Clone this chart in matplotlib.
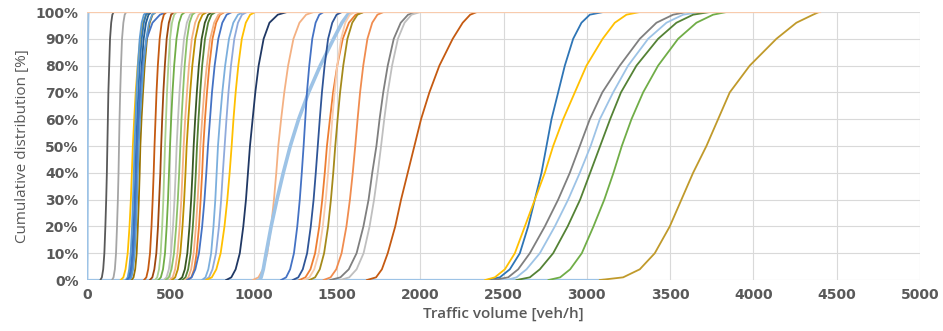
import matplotlib.pyplot as plt

# cumulative levels [%] at which the traffic volume of each curve was read
levels = [0, 1, 4, 10, 20, 30, 40, 50, 60, 70, 80, 90, 96, 99, 100]

# traffic volume [veh/h] at each level, one list per detector, left to right
curves = [
    [2, 3, 3, 4, 4, 5, 5, 5, 6, 6, 7, 7, 8, 9, 10],
    [80, 89, 97, 104, 110, 115, 119, 122, 125, 128, 133, 138, 145, 152, 160],
    [150, 159, 167, 174, 180, 185, 189, 192, 195, 199, 204, 210, 218, 226, 235],
    [202, 218, 231, 244, 255, 263, 269, 275, 283, 292, 304, 319, 336, 355, 377],
    [232, 244, 253, 262, 270, 276, 281, 285, 291, 297, 305, 316, 328, 341, 357],
    [241, 253, 263, 272, 280, 286, 291, 295, 301, 308, 316, 328, 341, 354, 371],
    [252, 264, 273, 282, 290, 296, 301, 305, 312, 319, 328, 340, 354, 369, 387],
    [268, 279, 289, 298, 305, 311, 316, 320, 327, 336, 346, 360, 376, 393, 413],
    [243, 256, 266, 275, 284, 290, 295, 300, 308, 318, 333, 358, 393, 438, 478],
    [254, 266, 276, 286, 294, 300, 305, 310, 318, 328, 339, 355, 372, 391, 414],
    [342, 356, 367, 378, 387, 394, 400, 405, 411, 417, 425, 436, 448, 461, 477],
    [377, 392, 404, 416, 426, 433, 440, 445, 451, 458, 467, 478, 491, 505, 522],
    [408, 421, 432, 442, 451, 458, 463, 468, 474, 480, 488, 498, 510, 523, 538],
    [428, 443, 456, 468, 478, 486, 492, 498, 505, 513, 523, 537, 552, 568, 588],
    [460, 477, 491, 504, 516, 525, 532, 538, 546, 555, 567, 582, 599, 618, 640],
    [472, 491, 507, 522, 535, 545, 553, 560, 567, 576, 586, 600, 615, 632, 652],
    [495, 514, 529, 543, 556, 566, 573, 580, 589, 600, 612, 629, 649, 670, 695],
    [510, 529, 545, 560, 573, 583, 591, 598, 608, 619, 632, 650, 671, 693, 720],
    [552, 571, 587, 602, 615, 625, 633, 640, 649, 659, 671, 688, 707, 727, 752],
    [572, 591, 607, 622, 635, 645, 653, 660, 669, 679, 691, 708, 727, 747, 772],
    [606, 626, 643, 658, 672, 682, 691, 698, 708, 720, 734, 753, 775, 798, 826],
    [588, 608, 625, 640, 654, 664, 673, 680, 691, 703, 719, 739, 763, 788, 818],
    [600, 628, 650, 672, 691, 705, 716, 726, 738, 750, 766, 788, 812, 838, 870],
    [690, 711, 728, 745, 759, 770, 778, 786, 798, 812, 829, 852, 878, 906, 940],
    [705, 732, 753, 774, 792, 805, 815, 826, 837, 849, 864, 884, 906, 930, 960],
    [715, 749, 776, 802, 825, 842, 856, 868, 879, 892, 908, 929, 953, 979, 1010],
    [835, 866, 892, 917, 938, 954, 966, 978, 994, 1010, 1030, 1060, 1095, 1145, 1200],
    [995, 1029, 1056, 1082, 1105, 1122, 1136, 1148, 1165, 1184, 1207, 1239, 1275, 1315, 1360],
    [1035, 1045, 1058, 1075, 1105, 1140, 1178, 1220, 1270, 1330, 1400, 1480, 1530, 1565, 1590],
    [1165, 1195, 1219, 1242, 1262, 1277, 1289, 1300, 1310, 1320, 1334, 1352, 1372, 1394, 1420],
    [1235, 1268, 1295, 1321, 1343, 1360, 1373, 1385, 1397, 1410, 1426, 1447, 1472, 1498, 1530],
    [1275, 1311, 1341, 1369, 1394, 1412, 1427, 1440, 1458, 1477, 1502, 1535, 1572, 1612, 1660],
    [1300, 1335, 1364, 1391, 1415, 1433, 1447, 1460, 1472, 1486, 1502, 1525, 1550, 1577, 1610],
    [1335, 1369, 1397, 1423, 1447, 1464, 1478, 1490, 1504, 1519, 1538, 1563, 1592, 1623, 1660],
    [1420, 1462, 1496, 1528, 1557, 1578, 1595, 1610, 1624, 1639, 1658, 1683, 1712, 1743, 1780],
    [1460, 1521, 1571, 1618, 1659, 1690, 1712, 1737, 1756, 1778, 1805, 1841, 1883, 1927, 1980],
    [1520, 1574, 1618, 1660, 1696, 1723, 1745, 1765, 1784, 1805, 1831, 1866, 1906, 1948, 2000],
    [1680, 1735, 1770, 1805, 1850, 1885, 1925, 1965, 2005, 2055, 2115, 2195, 2255, 2300, 2340],
    [2400, 2478, 2538, 2598, 2648, 2688, 2728, 2758, 2788, 2828, 2868, 2918, 2968, 3018, 3098],
    [2390, 2448, 2508, 2568, 2628, 2688, 2748, 2798, 2858, 2928, 2998, 3095, 3168, 3238, 3318],
    [2440, 2528, 2588, 2658, 2748, 2828, 2898, 2958, 3018, 3093, 3198, 3318, 3418, 3518, 3598],
    [2518, 2578, 2638, 2718, 2808, 2888, 2958, 3023, 3078, 3158, 3248, 3368, 3478, 3578, 3678],
    [2578, 2658, 2718, 2798, 2885, 2960, 3020, 3080, 3140, 3205, 3298, 3428, 3538, 3638, 3738],
    [2770, 2840, 2900, 2970, 3040, 3105, 3160, 3210, 3268, 3338, 3428, 3548, 3658, 3758, 3838],
    [3078, 3218, 3318, 3408, 3498, 3568, 3638, 3718, 3788, 3858, 3978, 4138, 4258, 4358, 4394],
]

colors = [
    "#9DC3E6", "#595959", "#A5A5A5", "#FFC000", "#5B9BD5", "#2E75B6",
    "#255E91", "#997300", "#4472C4", "#5B9BD5", "#C55A11", "#9E480E",
    "#A9D18E", "#70AD47", "#BFBFBF", "#8CC168", "#F4B183", "#BF9000",
    "#385723", "#548235", "#ED7D31", "#F4B183", "#4472C4", "#7CAFDD",
    "#8FAADC", "#FFC000", "#203864", "#F4B183", "#9DC3E6", "#4472C4",
    "#2F5597", "#ED7D31", "#F8CBAD", "#A58A1B", "#F08C4F", "#7F7F7F",
    "#BFBFBF", "#C55A11", "#2E75B6", "#FFC000", "#7F7F7F", "#9DC3E6",
    "#548235", "#70AD47", "#C09A2B",
]

# flat parts drawn along 0 % and 100 %
bottom_end = 3100
top_end = 4400

fig = plt.figure(figsize=(9.43, 3.31), dpi=100)
ax = fig.add_axes([0.0923, 0.154, 0.8833, 0.8097])

ax.plot([0, bottom_end], [0, 0], color="#9DC3E6", lw=1.6, zorder=2)
for i, (xs, c) in enumerate(zip(curves, colors)):
    lw = 2.6 if i == 28 else 1.3
    ax.plot(xs, levels, color=c, lw=lw, zorder=3, solid_joinstyle="round")
ax.plot([0, top_end], [100, 100], color="#F8CBAD", lw=1.6, zorder=4)

ax.set_xlim(0, 5000)
ax.set_ylim(0, 100)
ax.set_xticks(range(0, 5001, 500))
ax.set_yticks(range(0, 101, 10))
ax.set_yticklabels([f"{v}%" for v in range(0, 101, 10)])
ax.grid(True, color="#D9D9D9", lw=0.8, zorder=0)
ax.set_axisbelow(True)
for s in ax.spines.values():
    s.set_visible(False)
ax.tick_params(length=0, labelsize=10, labelcolor="#595959", pad=6)
for lab in ax.get_xticklabels() + ax.get_yticklabels():
    lab.set_fontweight("bold")

ax.set_xlabel("Traffic volume [veh/h]", fontsize=11, color="#595959",
              fontweight="semibold", family="Open Sans", labelpad=3)
ax.set_ylabel("Cumulative distribution [%]", fontsize=11, color="#595959",
              family="Open Sans", labelpad=4)

plt.savefig("out.png", dpi=100)
